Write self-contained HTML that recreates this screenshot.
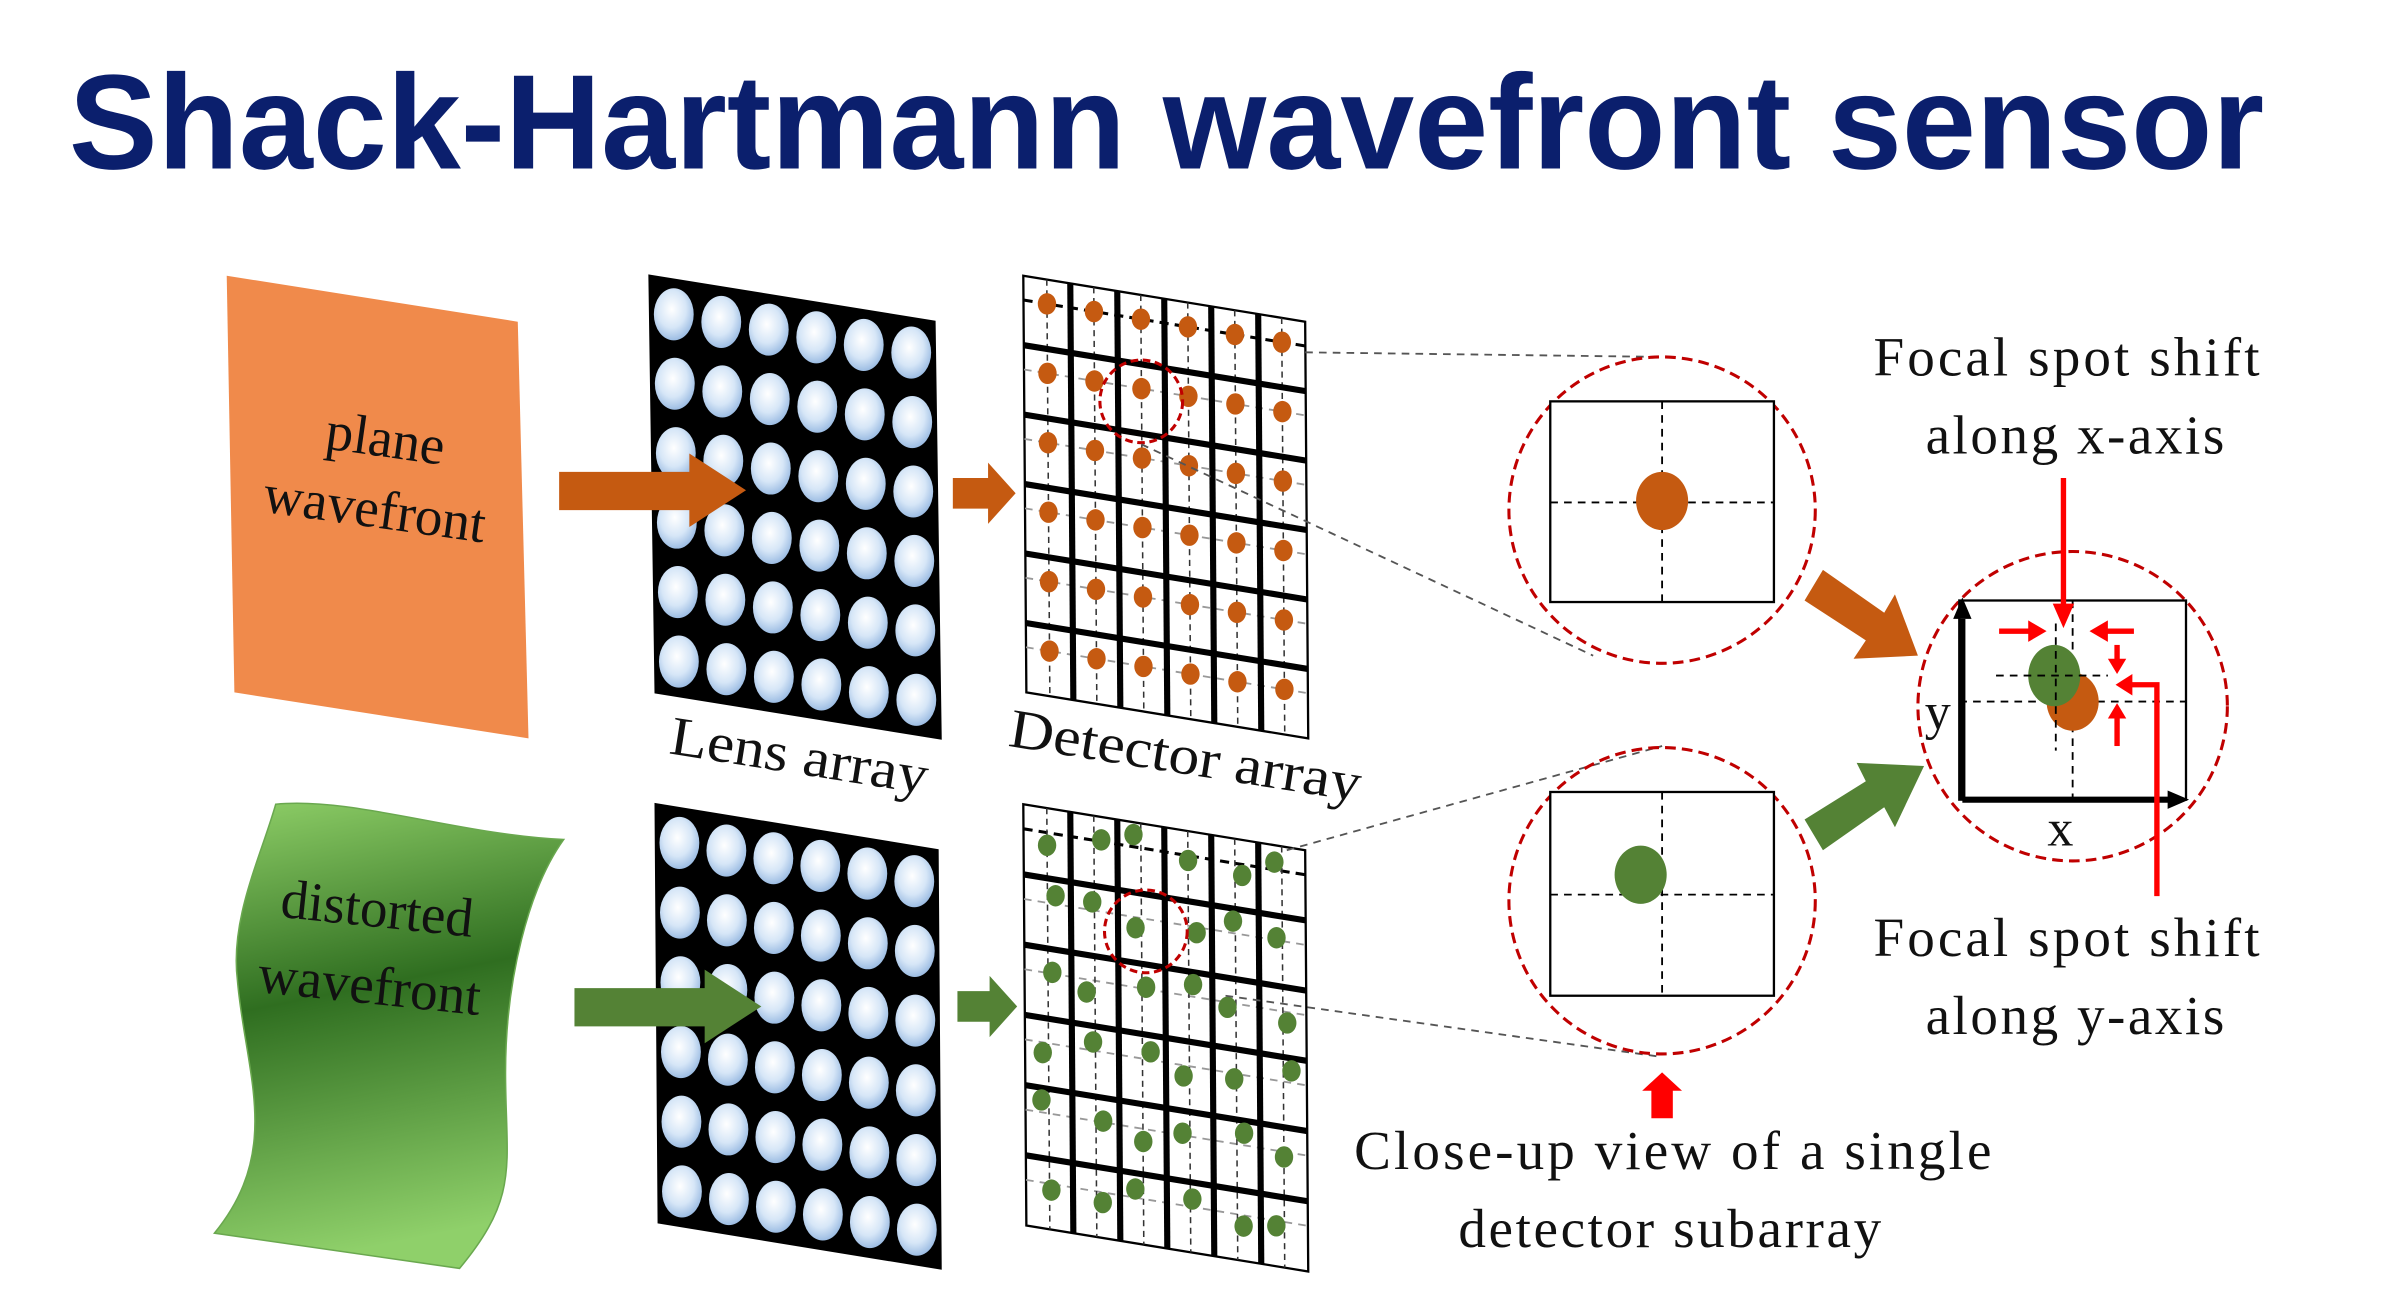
<!DOCTYPE html>
<html><head><meta charset="utf-8"><style>
html,body{margin:0;padding:0;background:#fff;}
svg{display:block;}
.s{font-family:"Liberation Serif",serif;fill:#111;}
</style></head><body>
<svg id="sv" width="2402" height="1309" viewBox="0 0 1568 854.5" preserveAspectRatio="none" xmlns="http://www.w3.org/2000/svg">
<defs>
<radialGradient id="lens" cx="0.45" cy="0.4" r="0.6"><stop offset="0" stop-color="#ffffff"/><stop offset="0.6" stop-color="#d6e6f7"/><stop offset="1" stop-color="#9dbde3"/></radialGradient>
<linearGradient id="gw" x1="0" y1="0" x2="0.15" y2="1"><stop offset="0" stop-color="#8fcf68"/><stop offset="0.45" stop-color="#2f6e20"/><stop offset="1" stop-color="#8fd06a"/></linearGradient>
</defs>
<rect width="1568" height="854.5" fill="#fff"/>
<text x="45" y="110" font-family="Liberation Sans, sans-serif" font-weight="bold" font-size="88" fill="#0b1f6d" textLength="1433" lengthAdjust="spacingAndGlyphs">Shack-Hartmann wavefront sensor</text>

<!-- plane wavefront -->
<polygon points="148,180 338,210 345,482 153,452" fill="#f08a4b"/>
<text class="s" font-size="36" transform="translate(250,298) rotate(8)" text-anchor="middle">plane</text>
<text class="s" font-size="36" transform="translate(243,344) rotate(8)" text-anchor="middle">wavefront</text>

<!-- distorted wavefront -->
<path d="M180,525 C170,560 150,600 155,640 C160,700 185,750 140,805 L300,828 C340,780 330,760 330,700 C330,640 345,580 368,548 C300,545 230,520 180,525 Z" fill="url(#gw)" stroke="#6aa84f" stroke-width="1"/>
<text class="s" font-size="36" transform="translate(245,605) rotate(6)" text-anchor="middle">distorted</text>
<text class="s" font-size="36" transform="translate(240,655) rotate(6)" text-anchor="middle">wavefront</text>

<g id="gen"></g>

<polygon points="365,308 450,308 450,296 487,320 450,344 450,333 365,333" fill="#c55a11"/>
<polygon points="375,645 460,645 460,633 497,657 460,681 460,670 375,670" fill="#548235"/>

<text class="s" font-size="36" transform="translate(520,505) rotate(9)" text-anchor="middle" textLength="170" lengthAdjust="spacingAndGlyphs">Lens  array</text>
<text class="s" font-size="36" transform="translate(772,505) rotate(9)" text-anchor="middle" textLength="232" lengthAdjust="spacingAndGlyphs">Detector  array</text>

<!-- small arrows -->
<polygon points="622,312 645,312 645,302 663,322 645,342 645,332 622,332" fill="#c55a11"/>
<polygon points="625,647 646,647 646,637 664,657 646,677 646,667 625,667" fill="#548235"/>

<!-- connectors -->
<g stroke="#555" stroke-width="1.2" stroke-dasharray="5,4" fill="none">
<line x1="852" y1="230" x2="1085" y2="233"/>
<line x1="745" y1="290" x2="1040" y2="428"/>
<line x1="840" y1="555" x2="1085" y2="487"/>
<line x1="800" y1="650" x2="1085" y2="690"/>
</g>

<!-- close-up top -->
<circle cx="1085" cy="333" r="100" fill="none" stroke="#c00000" stroke-width="2" stroke-dasharray="7,4"/>
<rect x="1012" y="262" width="146" height="131" fill="#fff" stroke="#000" stroke-width="1.5"/>
<g stroke="#000" stroke-width="1.2" stroke-dasharray="5,4"><line x1="1085" y1="262" x2="1085" y2="393"/><line x1="1012" y1="328" x2="1158" y2="328"/></g>
<ellipse cx="1085" cy="327" rx="17" ry="19" fill="#c55a11"/>
<!-- close-up bottom -->
<circle cx="1085" cy="588" r="100" fill="none" stroke="#c00000" stroke-width="2" stroke-dasharray="7,4"/>
<rect x="1012" y="517" width="146" height="133" fill="#fff" stroke="#000" stroke-width="1.5"/>
<g stroke="#000" stroke-width="1.2" stroke-dasharray="5,4"><line x1="1085" y1="517" x2="1085" y2="650"/><line x1="1012" y1="584" x2="1158" y2="584"/></g>
<ellipse cx="1071" cy="571" rx="17" ry="19" fill="#548235"/>

<!-- big arrows -->
<polygon points="1178,392 1190,372 1230,400 1237,388 1252,428 1210,430 1218,418" fill="#c55a11"/>
<polygon points="1178,535 1190,555 1230,527 1237,540 1256,500 1212,498 1218,510" fill="#548235"/>

<!-- right circle -->
<circle cx="1353" cy="461" r="101" fill="none" stroke="#c00000" stroke-width="2" stroke-dasharray="7,4"/>
<rect x="1279" y="392" width="148" height="130" fill="#fff" stroke="#000" stroke-width="1.5"/>
<g stroke="#000" stroke-width="1.2" stroke-dasharray="5,4" fill="none">
<line x1="1279" y1="458" x2="1427" y2="458"/><line x1="1353" y1="392" x2="1353" y2="522"/>
</g>
<ellipse cx="1353" cy="458" rx="17" ry="19" fill="#c55a11"/>
<ellipse cx="1341" cy="441" rx="17" ry="20" fill="#548235"/>
<g stroke="#000" stroke-width="1.2" stroke-dasharray="5,4" fill="none">
<line x1="1342" y1="407" x2="1342" y2="490"/><line x1="1303" y1="441" x2="1376" y2="441"/>
</g>
<g stroke="#000" stroke-width="4" fill="none"><line x1="1281" y1="522" x2="1281" y2="404"/><line x1="1281" y1="522" x2="1416" y2="522"/></g>
<polygon points="1281,390 1275,404 1287,404" fill="#000"/>
<polygon points="1429,522 1415,516 1415,528" fill="#000"/>
<text class="s" font-size="34" x="1265" y="476" text-anchor="middle">y</text>
<text class="s" font-size="34" x="1345" y="552" text-anchor="middle">x</text>

<!-- red arrows -->
<g stroke="#ff0000" stroke-width="3.5" fill="#ff0000">
<line x1="1347" y1="312" x2="1347" y2="398"/>
<line x1="1305" y1="412" x2="1327" y2="412"/>
<line x1="1393" y1="412" x2="1372" y2="412"/>
<line x1="1382" y1="421" x2="1382" y2="432"/>
<line x1="1382" y1="487" x2="1382" y2="467"/>
<polyline points="1408,585 1408,447 1390,447" fill="none"/>
</g>
<g fill="#ff0000">
<polygon points="1340,394 1354,394 1347,410"/>
<polygon points="1324,405 1324,419 1336,412"/>
<polygon points="1376,405 1376,419 1364,412"/>
<polygon points="1376,430 1388,430 1382,440"/>
<polygon points="1376,469 1388,469 1382,459"/>
<polygon points="1392,440 1392,454 1381,447"/>
<polygon points="1072,712 1085,700 1098,712 1092,712 1092,730 1078,730 1078,712"/>
</g>

<text class="s" font-size="36" x="1223" y="245" textLength="252" lengthAdjust="spacing">Focal  spot  shift</text>
<text class="s" font-size="36" x="1257" y="296" textLength="195" lengthAdjust="spacing">along  x-axis</text>
<text class="s" font-size="36" x="1223" y="624" textLength="252" lengthAdjust="spacing">Focal  spot  shift</text>
<text class="s" font-size="36" x="1257" y="675" textLength="195" lengthAdjust="spacing">along  y-axis</text>
<text class="s" font-size="36" x="884" y="763" textLength="416" lengthAdjust="spacing">Close-up  view  of  a  single</text>
<text class="s" font-size="36" x="952" y="814" textLength="276" lengthAdjust="spacing">detector  subarray</text>
</svg>
<script>
(function(){
var NS="http://www.w3.org/2000/svg",g=document.getElementById("gen");
function el(n,a){var e=document.createElementNS(NS,n);for(var k in a)e.setAttribute(k,a[k]);g.appendChild(e);return e;}
function P(o,u,v,a,b){return [o[0]+a*u[0]+b*v[0],o[1]+a*u[1]+b*v[1]];}
function poly(o,u,v,f){var p=[P(o,u,v,0,0),P(o,u,v,1,0),P(o,u,v,1,1),P(o,u,v,0,1)];el("polygon",{points:p.map(function(q){return q.join(",")}).join(" "),fill:f,stroke:"#000","stroke-width":1.5});}
function ln(o,u,v,a1,b1,a2,b2,at){var p=P(o,u,v,a1,b1),q=P(o,u,v,a2,b2);var a={x1:p[0],y1:p[1],x2:q[0],y2:q[1]};for(var k in at)a[k]=at[k];el("line",a);}
function lens(o,u,v){poly(o,u,v,"#000");for(var i=0;i<6;i++)for(var j=0;j<6;j++){var c=P(o,u,v,(i+0.5)/6,(j+0.5)/6);el("ellipse",{cx:c[0],cy:c[1],rx:13,ry:17,fill:"url(#lens)"});}}
lens([424,180],[186,30],[4,272]);
lens([428,525],[184,30],[2,273]);
function det(o,u,v,col,jit){
 poly(o,u,v,"#fff");
 for(var j=0;j<6;j++){var b=(j+0.35)/6;ln(o,u,v,0,b,1,b,j==0?{stroke:"#000","stroke-width":2,"stroke-dasharray":"6,4"}:{stroke:"#999","stroke-width":1.2,"stroke-dasharray":"5,4"});}
 for(var i=0;i<6;i++){var a=(i+0.5)/6;ln(o,u,v,a,0,a,1,{stroke:"#333","stroke-width":1,"stroke-dasharray":"4,3"});}
 for(var k=1;k<6;k++){ln(o,u,v,k/6,0,k/6,1,{stroke:"#000","stroke-width":4});ln(o,u,v,0,k/6,1,k/6,{stroke:"#000","stroke-width":4});}
 for(var i=0;i<6;i++)for(var j=0;j<6;j++){var dx=0,dy=0;if(jit){dx=Math.sin(i*2.1+j*1.3)*0.03;dy=Math.cos(i*1.7+j*2.3)*0.03;}
  var c=P(o,u,v,(i+0.5)/6+dx,(j+0.35)/6+dy);el("ellipse",{cx:c[0],cy:c[1],rx:6,ry:7,fill:col});}
}
det([668,180],[184,30],[2,272],"#c55a11",false);
det([668,525],[184,30],[2,275],"#548235",true);
el("circle",{cx:745,cy:262,r:27,fill:"none",stroke:"#c00000","stroke-width":2,"stroke-dasharray":"5,3"});
el("circle",{cx:748,cy:608,r:27,fill:"none",stroke:"#c00000","stroke-width":2,"stroke-dasharray":"5,3"});
})();
</script>
</body></html>
